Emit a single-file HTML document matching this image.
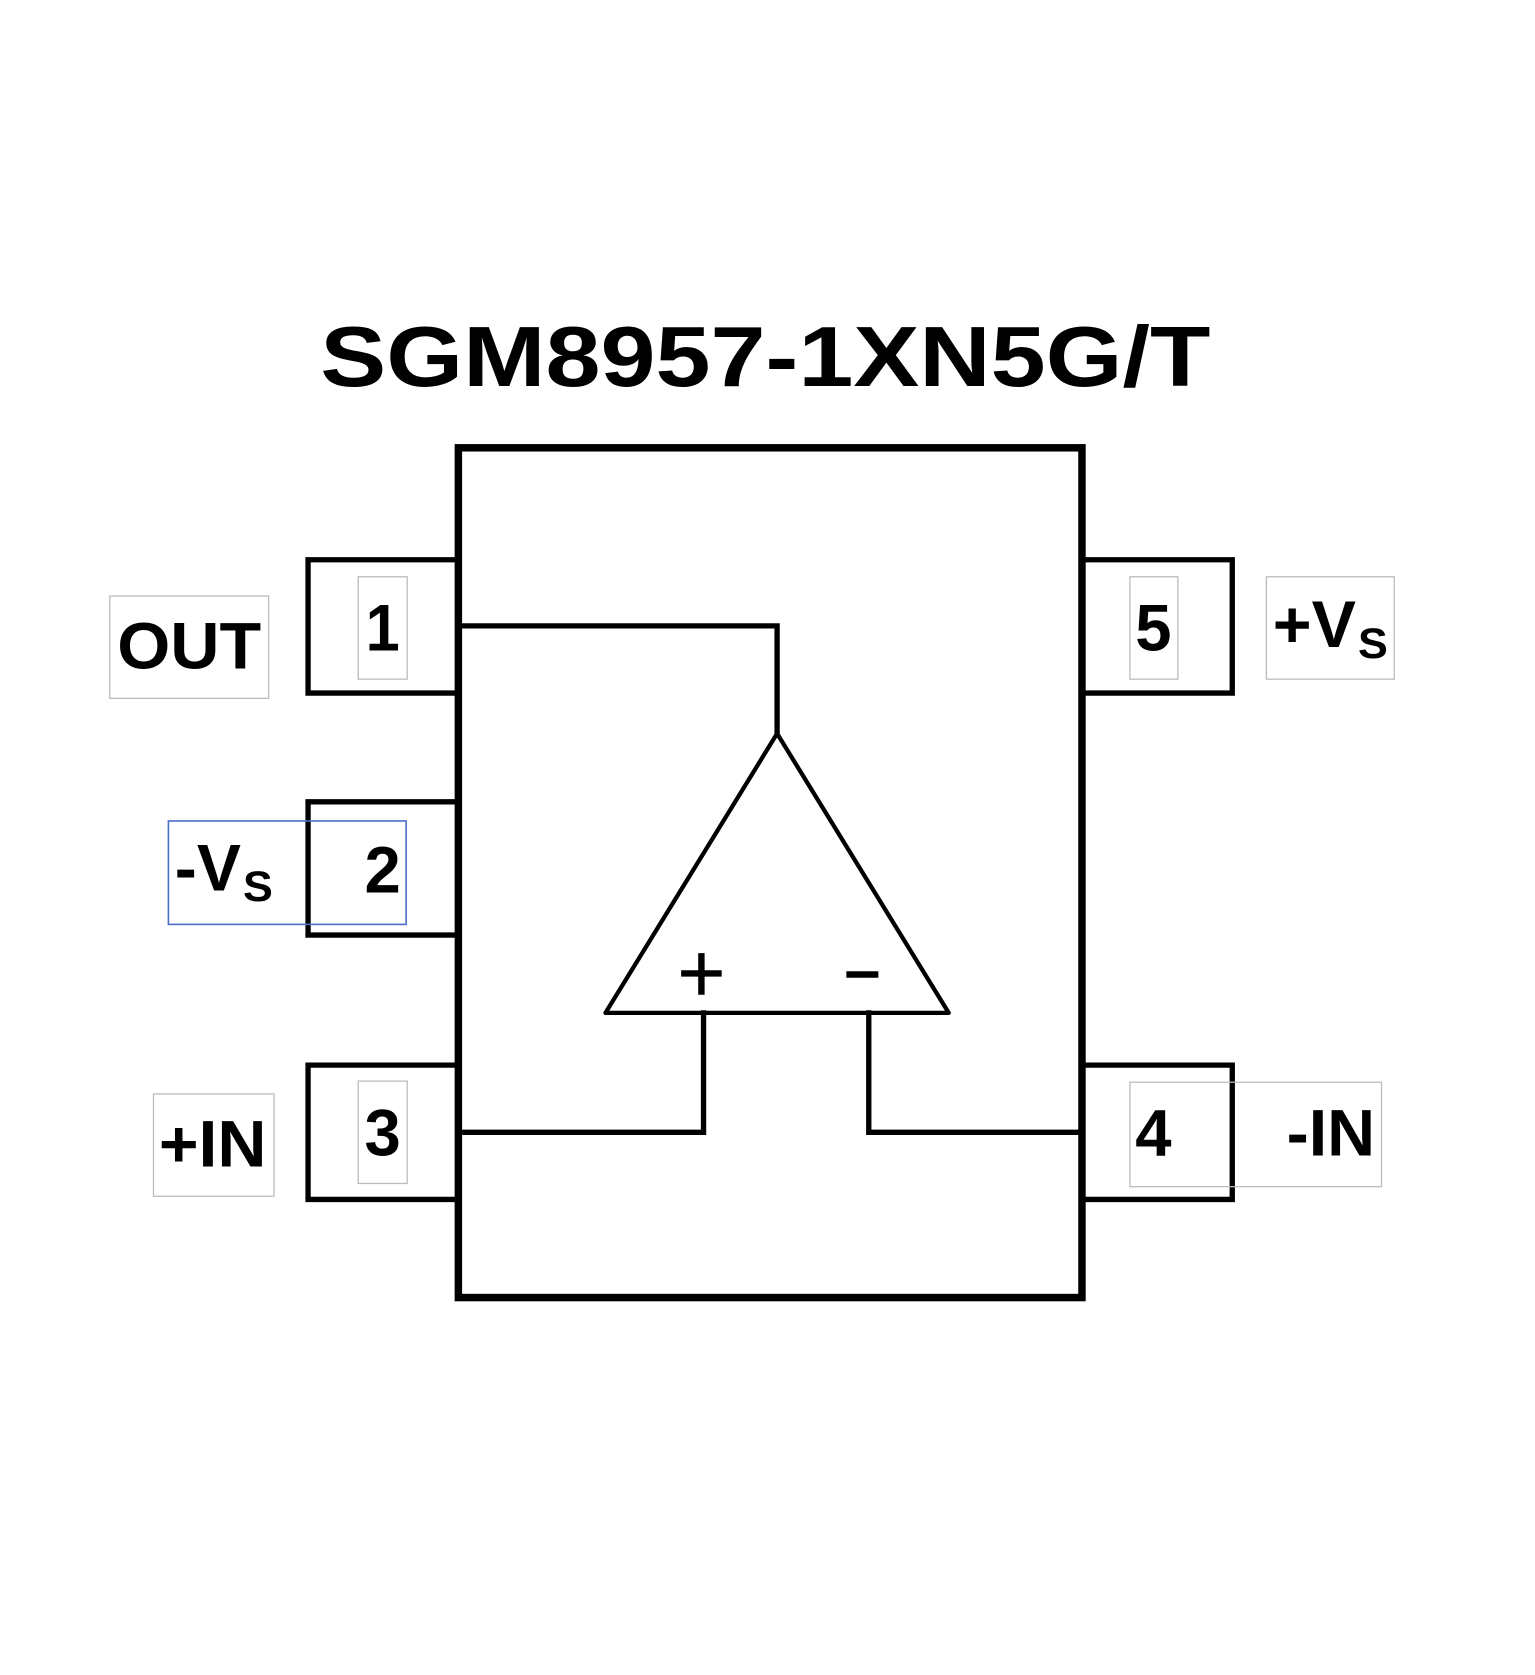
<!DOCTYPE html>
<html><head><meta charset="utf-8"><style>html,body{margin:0;padding:0;background:#fff;}svg{display:block}</style></head>
<body>
<svg width="1535" height="1675" viewBox="0 0 1440 1571" preserveAspectRatio="none" xmlns="http://www.w3.org/2000/svg">
<rect width="1440" height="1571" fill="#fff"/>
<text x="718" y="362" text-anchor="middle" font-family="Liberation Sans, sans-serif" font-weight="bold" font-size="80" textLength="835" lengthAdjust="spacingAndGlyphs">SGM8957-1XN5G/T</text>
<g fill="none" stroke="#000" stroke-linecap="square">
<rect x="430" y="420" width="585" height="797" stroke-width="7"/>
<g stroke-width="5">
<polyline points="430,525 289,525 289,650 430,650"/>
<polyline points="430,752 289,752 289,877 430,877"/>
<polyline points="430,999 289,999 289,1125 430,1125"/>
<polyline points="1015,525 1156,525 1156,650 1015,650"/>
<polyline points="1015,999 1156,999 1156,1125 1015,1125"/>
<polyline points="433,587 729,587 729,688"/>
<polyline points="660,950 660,1062 436,1062"/>
<polyline points="815,950 815,1062 1010,1062"/>
</g>
<polygon points="729,688 568,950 890,950" stroke-width="4" stroke-linejoin="round"/>
</g>
<g fill="none" stroke="#bbb" stroke-width="1.2">
<rect x="103" y="559" width="149" height="96"/>
<rect x="336" y="541" width="46" height="96"/>
<rect x="144" y="1026" width="113" height="96"/>
<rect x="336" y="1014" width="46" height="96"/>
<rect x="1060" y="541" width="45" height="96"/>
<rect x="1188" y="541" width="120" height="96"/>
<rect x="1060" y="1015" width="236" height="98"/>
</g>
<rect x="158" y="770" width="223" height="97" fill="none" stroke="#4a6fc7" stroke-width="1.5"/>
<g font-family="Liberation Sans, sans-serif" font-weight="bold" fill="#000">
<text x="110" y="627" font-size="62" textLength="135" lengthAdjust="spacingAndGlyphs">OUT</text>
<text x="359" y="610" font-size="62" text-anchor="middle" textLength="32" lengthAdjust="spacingAndGlyphs">1</text>
<text x="359" y="837" font-size="62" text-anchor="middle" textLength="34" lengthAdjust="spacingAndGlyphs">2</text>
<text x="359" y="1084" font-size="62" text-anchor="middle" textLength="34" lengthAdjust="spacingAndGlyphs">3</text>
<text x="1082" y="610" font-size="62" text-anchor="middle" textLength="34" lengthAdjust="spacingAndGlyphs">5</text>
<text x="1082" y="1084" font-size="62" text-anchor="middle" textLength="34" lengthAdjust="spacingAndGlyphs">4</text>
<text x="149" y="1094" font-size="62" textLength="101" lengthAdjust="spacingAndGlyphs">+IN</text>
<text x="1207" y="1084" font-size="62" textLength="83" lengthAdjust="spacingAndGlyphs">-IN</text>
<text x="164" y="835" font-size="62" textLength="62" lengthAdjust="spacingAndGlyphs">-V</text>
<text x="228" y="845" font-size="40" textLength="28" lengthAdjust="spacingAndGlyphs">S</text>
<text x="1194" y="607" font-size="62" textLength="78" lengthAdjust="spacingAndGlyphs">+V</text>
<text x="1274" y="617" font-size="40" textLength="28" lengthAdjust="spacingAndGlyphs">S</text>
</g>
<g stroke="#000" stroke-width="6">
<line x1="639" y1="913" x2="677" y2="913"/>
<line x1="658" y1="894" x2="658" y2="933"/>
<line x1="794" y1="914" x2="824" y2="914"/>
</g>
</svg>
</body></html>
